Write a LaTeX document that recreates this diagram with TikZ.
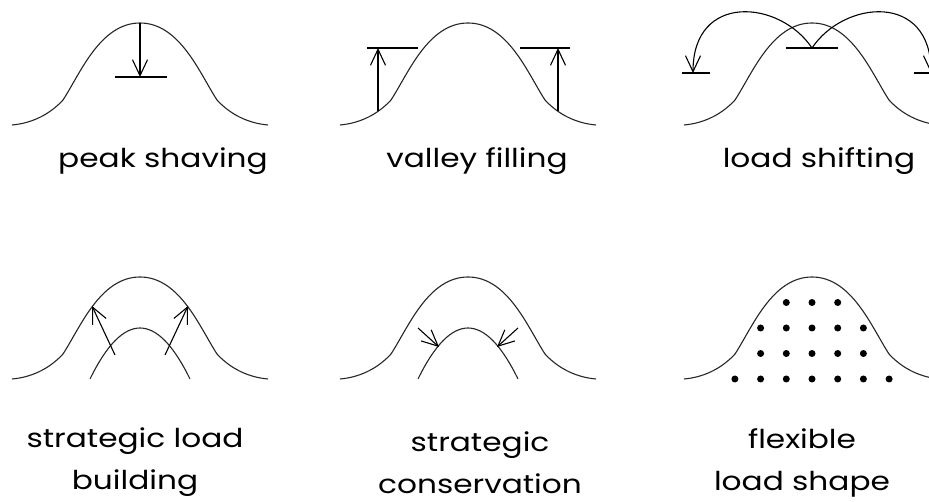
\documentclass[tikz,border=0pt]{standalone}
\usepackage{fontspec}
\setmainfont{Poppins}[FakeStretch=1.2]
\usetikzlibrary{arrows.meta, positioning}

\begin{document}
\begin{tikzpicture}[
  x=1pt, y=-1pt,
  hump line/.style={line width=1.1pt, black!85},
  arrow/.style={line width=1.1pt, -{Straight Barb[length=16pt, width=15pt]}},
  bar/.style={line width=1.1pt},
  caption/.style={font=\fontsize{26}{42}\selectfont, align=center, inner sep=0pt},
  hump/.pic={
    \draw[hump line] (-128,102) .. controls (-105,100) and (-88,89) .. (-77,77)
      .. controls (-60,51) and (-40,0) .. (0,0)
      .. controls (40,0) and (60,51) .. (77,77)
      .. controls (88,89) and (105,100) .. (128,102);
  },
  inner hump/.pic={
    \draw[hump line] (-50,102) .. controls (-16.7,34) and (16.7,34) .. (50,102);
  },
]
\useasboundingbox (0,0) rectangle (929,502);
\clip (0,0) rectangle (929,502);

% ---- peaks of the six load curves ----
\coordinate (top1) at (140,23);
\coordinate (top2) at (468,23);
\coordinate (top3) at (812,23);
\coordinate (top4) at (140,277);
\coordinate (top5) at (468,277);
\coordinate (top6) at (812,277);

\foreach \p in {1,...,6} \pic at (top\p) {hump};

% ---- peak shaving ----
\coordinate (cut) at (140,77);
\draw[bar] (115,77) -- (167,77);
\draw[arrow] (top1) -- (cut);
\node[caption, anchor=base] (peak) at (163,168) {peak shaving};

% ---- valley filling ----
\coordinate (fillL) at (378,111);
\coordinate (fillLtop) at (378,48);
\coordinate (fillR) at (558,111);
\coordinate (fillRtop) at (558,48);
\draw[bar] (367,48) -- (418,48);
\draw[bar] (520,48) -- (570,48);
\draw[arrow] (fillL) -- (fillLtop);
\draw[arrow] (fillR) -- (fillRtop);
\node[caption, anchor=base] (valley) at (477,168) {valley filling};

% ---- load shifting ----
\coordinate (shift) at (812,48);
\coordinate (shiftL) at (693,73);
\coordinate (shiftR) at (931,73);
\draw[bar] (786,48) -- (838,48);
\draw[bar] (682,73) -- (710,73);
\draw[bar] (914,73) -- (942,73);
\draw[arrow] (shift) .. controls (780,0) and (693,-8) .. (shiftL);
\draw[arrow] (shift) .. controls (844,0) and (931,-8) .. (shiftR);
\node[caption, anchor=base] (shifting) at (819,168) {load shifting};

% ---- strategic load building ----
\pic at (top4) {inner hump};
\coordinate (growL) at (115,355);
\coordinate (growLtop) at (92,306);
\coordinate (growR) at (165,355);
\coordinate (growRtop) at (188,306);
\draw[arrow] (growL) -- (growLtop);
\draw[arrow] (growR) -- (growRtop);
\node[caption, anchor=base] (building) at (135,489) {strategic load\\building};

% ---- strategic conservation ----
\pic at (top5) {inner hump};
\coordinate (saveL) at (418,328);
\coordinate (saveLtip) at (439,347);
\coordinate (saveR) at (518,328);
\coordinate (saveRtip) at (497,347);
\draw[arrow] (saveL) -- (saveLtip);
\draw[arrow] (saveR) -- (saveRtip);
\node[caption, anchor=base] (conservation) at (480,493) {strategic\\conservation};

% ---- flexible load shape ----
\foreach \row/\n in {1/1, 2/2, 3/2, 4/3}
  \foreach \i in {-\n,...,\n}
    \fill (812+25.7*\i, 277+25.5*\row) circle[radius=3.5pt];
\node[caption, anchor=base] (flexible) at (802,490) {flexible\\load shape};

\end{tikzpicture}
\end{document}
